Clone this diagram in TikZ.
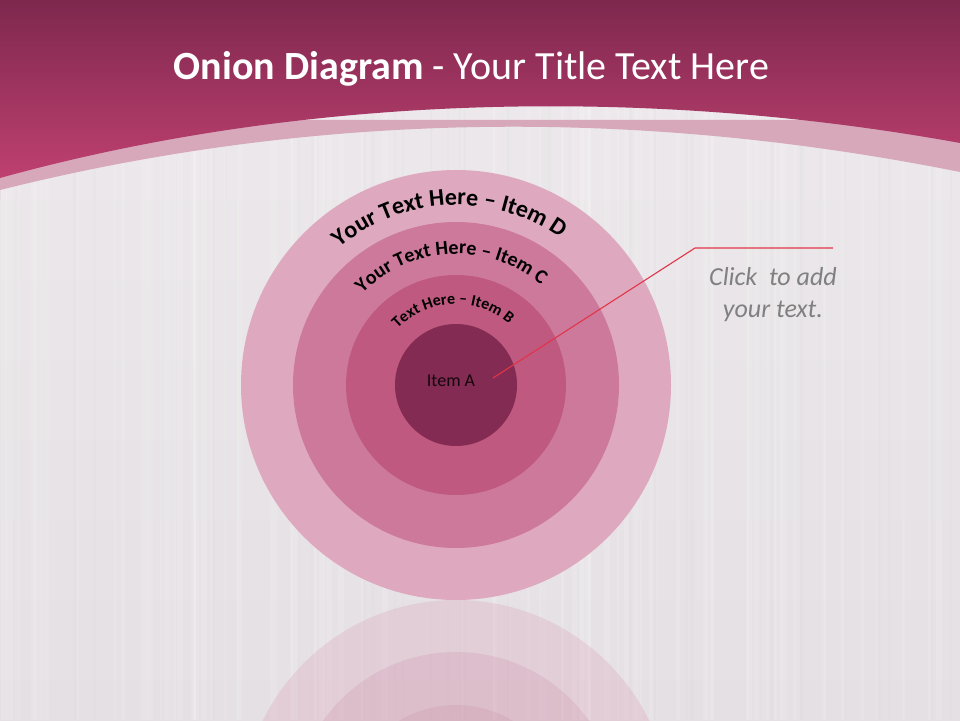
\documentclass[tikz,border=0pt]{standalone}
\usepackage{fontspec}
\setmainfont{Carlito}
\usetikzlibrary{decorations.text}
\definecolor{bgTop}{RGB}{237,233,236}
\definecolor{bgBot}{RGB}{228,224,227}
\definecolor{headTop}{RGB}{126,40,78}
\definecolor{headBot}{RGB}{190,64,112}
\definecolor{bandCol}{RGB}{214,168,185}
\definecolor{ringD}{RGB}{222,169,190}
\definecolor{ringC}{RGB}{205,121,156}
\definecolor{ringB}{RGB}{191,89,127}
\definecolor{ringA}{RGB}{131,43,82}
\definecolor{noteGrey}{RGB}{128,128,128}
\definecolor{calloutRed}{RGB}{226,52,72}
\tikzset{
  ring/.style={circle, inner sep=0pt, outer sep=0pt, draw=none},
  ringlabel/.style={decorate, decoration={text along path, text align=center}},
  callout/.style={draw=calloutRed, line width=1.1pt},
}
\begin{document}
\begin{tikzpicture}[x=1pt,y=1pt]
\useasboundingbox (0,0) rectangle (960,720);
% background
\shade[top color=bgTop, bottom color=bgBot] (0,0) rectangle (960,720);
\pgfmathsetseed{11}
\foreach \i in {1,...,90}{
  \pgfmathsetmacro\xx{rnd*960}
  \pgfmathsetmacro\ww{1+rnd*6}
  \fill[white, opacity=0.12] (\xx,0) rectangle ++(\ww,620);
}
\foreach \i in {1,...,40}{
  \pgfmathsetmacro\xx{rnd*960}
  \pgfmathsetmacro\ww{1+rnd*4}
  \fill[black!30, opacity=0.035] (\xx,0) rectangle ++(\ww,620);
}
% band
\fill[bandCol] (0,520) -- (0,530) .. controls (320,610) and (640,612) .. (960,548) -- (960,600) -- (0,600) -- cycle;
% header
\shade[top color=headTop, bottom color=headBot] (0,720) -- (0,542) .. controls (300,625) and (640,635) .. (960,577) -- (960,720) -- cycle;
% title
\node[anchor=base, text=white, font=\fontsize{40}{40}\selectfont] (title) at (471.5,640) {\textbf{Onion Diagram} - Your Title Text Here};
% reflection
\begin{scope}[transparency group, opacity=0.33]
  \node[ring, fill=ringD, minimum size=430pt] (rD) at (456,-95) {};
  \node[ring, fill=ringC, minimum size=326pt] (rC) at (456,-95) {};
  \node[ring, fill=ringB, minimum size=220pt] (rB) at (456,-95) {};
  \node[ring, fill=ringA, minimum size=122pt] (rA) at (456,-95) {};
\end{scope}
% rings
\node[ring, fill=ringD, minimum size=430pt] (D) at (456,335) {};
\node[ring, fill=ringC, minimum size=326pt] (C) at (456,335) {};
\node[ring, fill=ringB, minimum size=220pt] (B) at (456,335) {};
\node[ring, fill=ringA, minimum size=122pt] (A) at (456,335) {};
% ring labels
\path[ringlabel, decoration={text={|\bfseries\fontsize{24}{24}\selectfont|Your Text Here – Item D}}]
  ([shift={(172.5:180)}]D.center) arc[start angle=172.5, end angle=12.5, radius=180];
\path[ringlabel, decoration={text={|\bfseries\fontsize{20}{20}\selectfont|Your Text Here – Item C}}]
  ([shift={(172.5:131)}]C.center) arc[start angle=172.5, end angle=12.5, radius=131];
\path[ringlabel, decoration={text={|\bfseries\fontsize{16}{16}\selectfont|Text Here – Item B}}]
  ([shift={(172.5:81)}]B.center) arc[start angle=172.5, end angle=12.5, radius=81];
\node[font=\fontsize{18}{18}\selectfont, text=black!85!ringA] (itemA) at (451,339) {Item A};
% callout
\coordinate (cStart) at (493,342);
\coordinate (cBend) at (695,472);
\coordinate (cEnd) at (833,472);
\draw[callout] (cStart) -- (cBend) -- (cEnd);
\node[align=center, text=noteGrey, font=\itshape\fontsize{26}{32}\selectfont, anchor=north] (note) at (773,456) {Click\ \ to add\\your text.};
\end{tikzpicture}
\end{document}
